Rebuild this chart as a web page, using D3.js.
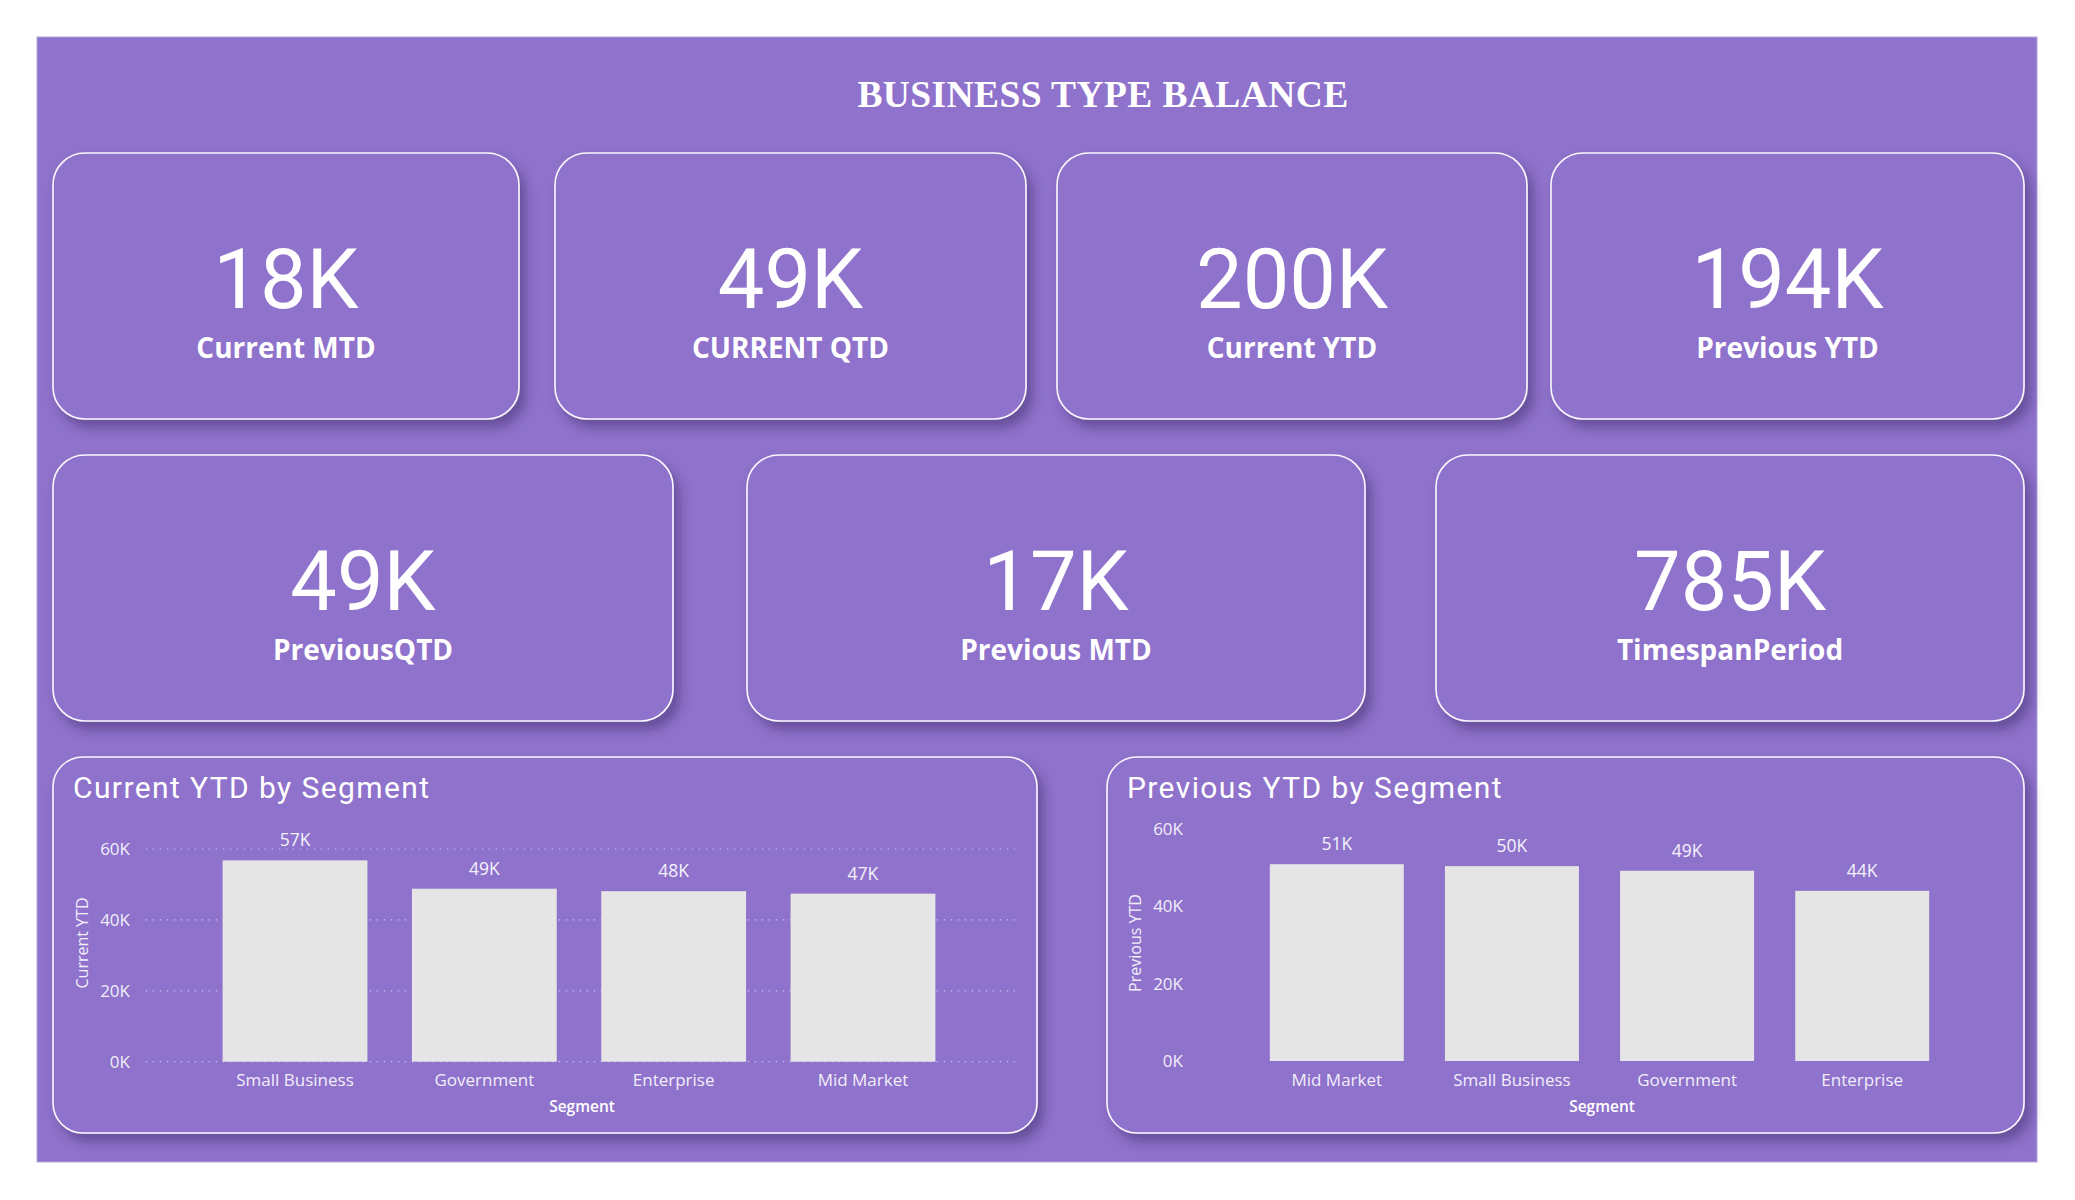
<!DOCTYPE html>
<html><head><meta charset="utf-8">
<script src="https://cdn.jsdelivr.net/npm/d3@7"></script>
<style>html,body{margin:0;padding:0;background:#fff;} svg{display:block}</style>
</head><body>
<svg id="c" width="2075" height="1200"></svg>
<script>
// ---------- data ----------
const reportTitle = "BUSINESS TYPE BALANCE";
const kpiLabels = ["Current MTD","CURRENT QTD","Current YTD","Previous YTD","PreviousQTD","Previous MTD","TimespanPeriod"];
const kpiValues = [18000,49000,200000,194000,49000,17000,785000];
const currentSegments = ["Small Business","Government","Enterprise","Mid Market"];
const currentYTD = [56800,48800,48100,47400];
const previousSegments = ["Mid Market","Small Business","Government","Enterprise"];
const previousYTD = [50900,50400,49200,44000];
const yTicks = [0,20000,40000,60000];
const chartTitles = ["Current YTD by Segment","Previous YTD by Segment"];
const yTitles = ["Current YTD","Previous YTD"];
const xTitle = "Segment";

// ---------- layout / style ----------
const BG = "#8f72cb";
const fmtK = v => Math.round(v/1000) + "K";
const svg = d3.select("#c");
const defs = svg.append("defs");
defs.append("filter").attr("id","sh").attr("x","-10%").attr("y","-10%").attr("width","130%").attr("height","140%")
  .append("feDropShadow").attr("dx",6).attr("dy",8).attr("stdDeviation",6)
  .attr("flood-color","#3a2868").attr("flood-opacity",0.5);

svg.append("rect").attr("x",37).attr("y",37).attr("width",2000).attr("height",1125)
  .attr("fill",BG).attr("stroke","#b4a6dc").attr("stroke-width",1);

svg.append("text").attr("x",1103).attr("y",107).attr("text-anchor","middle")
  .attr("font-family","'Liberation Serif', serif").attr("font-weight",700).attr("font-size",37.5)
  .attr("letter-spacing",0.4).attr("fill","#fff").text(reportTitle);

const kpiBoxes = [[53,153,466,266],[555,153,471,266],[1057,153,470,266],[1551,153,473,266],
                  [53,455,620,266],[747,455,618,266],[1436,455,588,266]];
kpiBoxes.forEach((b,i)=>{
  const g = svg.append("g").attr("transform",`translate(${b[0]},${b[1]})`);
  g.append("rect").attr("width",b[2]).attr("height",b[3]).attr("rx",32).attr("ry",32)
    .attr("fill",BG).attr("stroke","#fbf8ff").attr("stroke-width",1.6).attr("filter","url(#sh)");
  g.append("text").attr("x",b[2]/2).attr("y",155).attr("text-anchor","middle")
    .attr("font-family","Roboto, sans-serif").attr("font-size",83).attr("fill","#fff")
    .text(fmtK(kpiValues[i]));
  g.append("text").attr("x",b[2]/2).attr("y",205).attr("text-anchor","middle")
    .attr("font-family","'Open Sans', sans-serif").attr("font-weight",700).attr("font-size",28).attr("fill","#fff")
    .text(kpiLabels[i]);
});

const panels = [
  {box:[53,757,984,376], cats:currentSegments, vals:currentYTD, title:chartTitles[0], ytitle:yTitles[0],
   xr:[145,1013], yr:[1061.7,849], grid:[145.7,1015], yTitleX:82, xTitleX:582},
  {box:[1107,757,917,376], cats:previousSegments, vals:previousYTD, title:chartTitles[1], ytitle:yTitles[1],
   xr:[1198,2001], yr:[1061,829], grid:null, yTitleX:1135, xTitleX:1602}
];

panels.forEach(p=>{
  const b = p.box;
  svg.append("rect").attr("x",b[0]).attr("y",b[1]).attr("width",b[2]).attr("height",b[3])
    .attr("rx",30).attr("ry",30).attr("fill",BG).attr("stroke","#fbf8ff").attr("stroke-width",1.6)
    .attr("filter","url(#sh)");
  svg.append("text").attr("x",b[0]+20).attr("y",798)
    .attr("font-family","Roboto, sans-serif").attr("font-size",30).attr("letter-spacing",1.4)
    .attr("fill","#fff").text(p.title);

  const x = d3.scaleBand().domain(p.cats).range(p.xr).paddingInner(0.235).paddingOuter(0.41);
  const y = d3.scaleLinear().domain([0,60000]).range(p.yr);

  if (p.grid) {
    svg.append("g").selectAll("line").data(yTicks).join("line")
      .attr("x1",p.grid[0]).attr("x2",p.grid[1]).attr("y1",d=>y(d)).attr("y2",d=>y(d))
      .attr("stroke","#c9bcec").attr("stroke-width",1.2).attr("stroke-dasharray","1.5,5.5");
  }
  const ax = svg.append("g").attr("transform",`translate(${p.xr[0]},0)`)
    .call(d3.axisLeft(y).tickValues(yTicks).tickSize(0).tickPadding(15).tickFormat(fmtK));
  ax.select(".domain").remove();
  ax.selectAll("text").attr("font-family","'Open Sans', sans-serif").attr("font-size",17).attr("fill","#f1eefa");

  svg.append("g").selectAll("rect").data(p.vals).join("rect")
    .attr("x",(d,i)=>x(p.cats[i])).attr("width",x.bandwidth())
    .attr("y",d=>y(d)).attr("height",d=>y(0)-y(d)).attr("fill","#e5e5e5");

  svg.append("g").selectAll("text").data(p.vals).join("text")
    .attr("x",(d,i)=>x(p.cats[i])+x.bandwidth()/2).attr("y",d=>y(d)-14)
    .attr("text-anchor","middle").attr("font-family","'Open Sans', sans-serif").attr("font-size",17.5)
    .attr("fill","#f4f2fb").text(fmtK);

  svg.append("g").selectAll("text").data(p.cats).join("text")
    .attr("x",d=>x(d)+x.bandwidth()/2).attr("y",1086)
    .attr("text-anchor","middle").attr("font-family","'Open Sans', sans-serif").attr("font-size",17)
    .attr("fill","#f1eefa").text(d=>d);

  svg.append("text").attr("x",p.xTitleX).attr("y",1111.5).attr("text-anchor","middle")
    .attr("font-family","'Open Sans', sans-serif").attr("font-weight",600).attr("font-size",15.5)
    .attr("fill","#fff").text(xTitle);

  svg.append("text").attr("transform",`translate(${p.yTitleX},943) rotate(-90)`)
    .attr("text-anchor","middle").attr("dy","0.35em")
    .attr("font-family","'Open Sans', sans-serif").attr("font-size",16)
    .attr("fill","#f1eefa").text(p.ytitle);
});
</script>
</body></html>
